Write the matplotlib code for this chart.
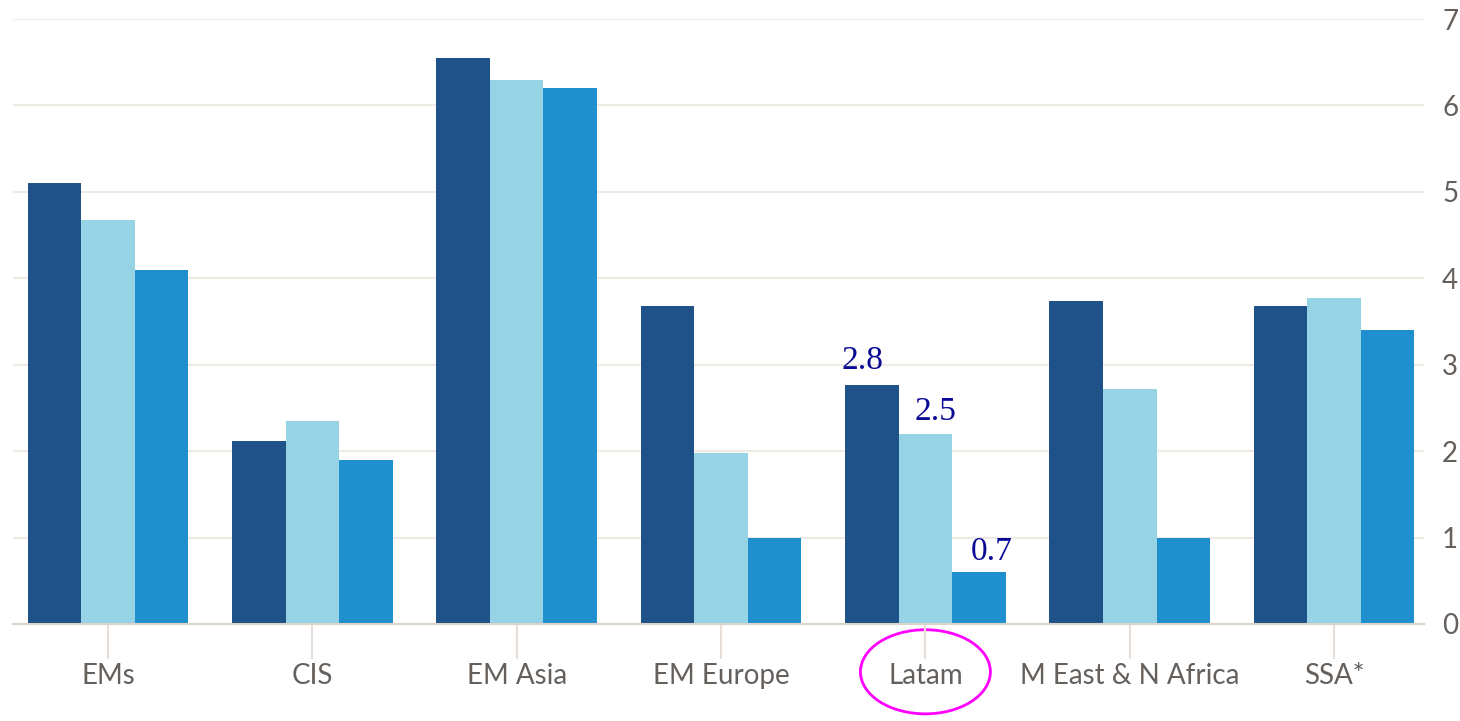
import matplotlib
matplotlib.use("Agg")
import matplotlib.pyplot as plt
import numpy as np
from matplotlib.patches import Ellipse
from matplotlib.transforms import blended_transform_factory

categories = ["EMs", "CIS", "EM Asia", "EM Europe", "Latam", "M East & N Africa", "SSA*"]
series_a = [5.1, 2.12, 6.55, 3.68, 2.76, 3.74, 3.68]
series_b = [4.68, 2.35, 6.3, 1.98, 2.2, 2.72, 3.77]
series_c = [4.1, 1.9, 6.2, 1.0, 0.6, 1.0, 3.4]
yticks = [0, 1, 2, 3, 4, 5, 6, 7]
latam_labels = ["2.8", "2.5", "0.7"]

colors = ["#1f5288", "#96d3e4", "#1f8fcd"]
grid_c = "#efe9e4"
text_c = "#66605c"

fig = plt.figure(figsize=(14.6, 7.21), dpi=100)
ax = fig.add_axes([13/1460, 1 - 624/721, (1424-13)/1460, (624-19)/721])

x = np.arange(len(categories))
w = 0.262
bars = []
for i, (vals, c) in enumerate(zip([series_a, series_b, series_c], colors)):
    bars.append(ax.bar(x + (i - 1) * w, vals, width=w, color=c, zorder=3, linewidth=0))

ax.set_ylim(0, 7)
ax.set_xlim(-0.465, 6.44)
ax.set_yticks(yticks)
ax.yaxis.tick_right()
ax.tick_params(axis="y", length=0, pad=13, labelsize=20, labelcolor=text_c)
ax.set_xticks(x)
ax.set_xticklabels(categories)
ax.tick_params(axis="x", length=25, width=1.5, color="#e6ded8", pad=3, labelsize=20, labelcolor=text_c)
for lab in ax.get_xticklabels() + ax.get_yticklabels():
    lab.set_fontfamily("Lato")

ax.grid(axis="y", color=grid_c, linewidth=1.5, zorder=0)
for s in ["top", "right", "left"]:
    ax.spines[s].set_visible(False)
ax.spines["bottom"].set_color("#dcd2ca")
ax.spines["bottom"].set_linewidth(1.5)
ax.spines["bottom"].set_zorder(4)

# Latam annotations
offsets = [(-7, 7), (7, 5), (9, 4)]
for i, (lbl, off) in enumerate(zip(latam_labels, offsets)):
    b = bars[i][4]
    ax.annotate(lbl, (b.get_x() + b.get_width() / 2, b.get_height()),
                xytext=off, textcoords="offset points", ha="center", va="bottom",
                fontsize=24, color="#0a0a96", fontfamily="Liberation Serif", zorder=5)

tr = blended_transform_factory(ax.transData, ax.transAxes)
ell = Ellipse((4.0, -0.079), 0.636, 0.139, transform=tr, fill=False,
              edgecolor="#ff00ff", linewidth=2, clip_on=False)
ax.add_patch(ell)

fig.savefig("out.png", dpi=100)
